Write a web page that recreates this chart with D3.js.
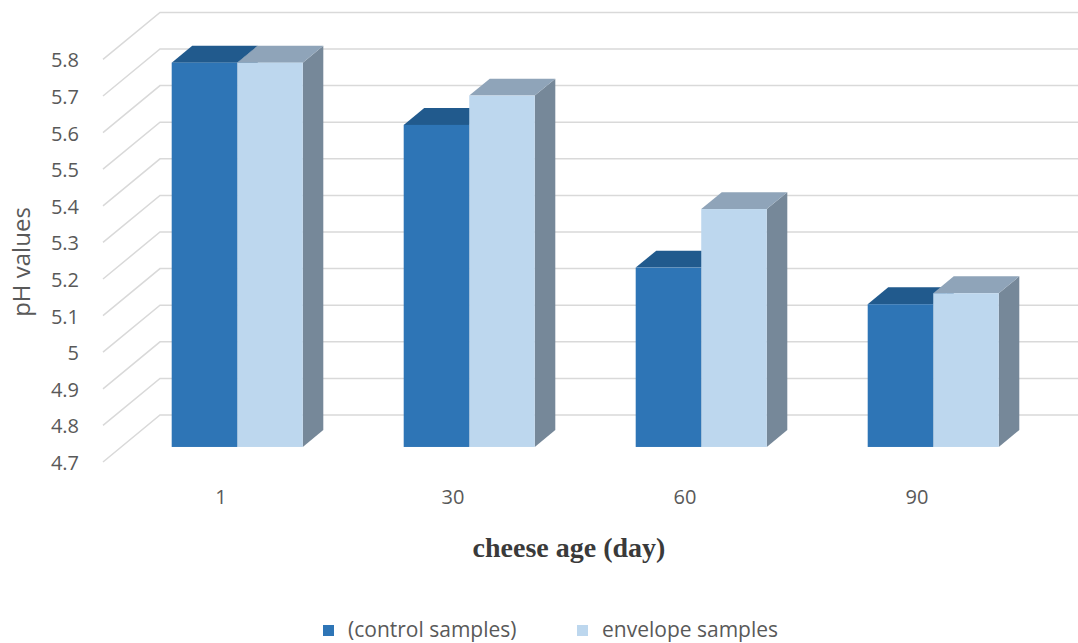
<!DOCTYPE html>
<html>
<head>
<meta charset="utf-8">
<script src="https://cdn.jsdelivr.net/npm/d3@7"></script>
<style>
  body { margin: 0; background: #fff; }
  svg text { font-family: "Open Sans", "Noto Sans", sans-serif; fill: #595959; }
</style>
</head>
<body>
<div id="chart"></div>
<script>
// data
var categories = ["1", "30", "60", "90"];
var controlValues = [5.75, 5.58, 5.19, 5.09];
var envelopeValues = [5.75, 5.66, 5.35, 5.12];
var yTicks = [4.7, 4.8, 4.9, 5.0, 5.1, 5.2, 5.3, 5.4, 5.5, 5.6, 5.7, 5.8];
var seriesNames = ["(control samples)", "envelope samples"];

var w = 1078, h = 643;

// 3d look: depth 0 = front edge of the floor, 1 = back wall
var depthX = 57, depthY = -47;
var barFront = 0.32, barBack = 0.68;

var svg = d3.select("#chart").append("svg")
	.attr("width", w)
	.attr("height", h);

var x = d3.scaleBand()
	.domain(categories)
	.range([103, 1031])
	.paddingInner(0.435)
	.paddingOuter(0.2175);

var y = d3.scaleLinear()
	.domain([4.7, 5.8])
	.range([462, 59.4]);

function px(xx, z) { return xx + z * depthX; }
function py(yy, z) { return yy + z * depthY; }

// side wall + back wall gridlines
var grid = svg.append("g");
yTicks.forEach(function(t) {
	var yy = y(t);
	grid.append("path")
		.attr("d", "M" + px(103, 0) + "," + py(yy, 0) +
			"L" + px(103, 1) + "," + py(yy, 1) +
			"L" + w + "," + py(yy, 1))
		.attr("fill", "none")
		.attr("stroke", "#d9d9d9")
		.attr("stroke-width", 1.5);
});

// y tick labels
svg.append("g").selectAll("text")
	.data(yTicks)
	.enter().append("text")
	.attr("x", 79)
	.attr("y", function(d) { return y(d) + 1; })
	.attr("dy", "0.35em")
	.attr("text-anchor", "end")
	.style("font-size", "20px")
	.text(function(d) { return d3.format("")(d) === "5" ? "5" : d3.format(".1f")(d); });

// bars
var colors = [
	{ front: "#2e75b6", top: "#215a8d", side: "#1d4f7c" },
	{ front: "#bdd7ee", top: "#8fa4b9", side: "#768899" }
];

var half = x.bandwidth() / 2;
var bars = svg.append("g");

categories.forEach(function(c, i) {
	[controlValues[i], envelopeValues[i]].forEach(function(v, s) {
		var x0 = x(c) + s * half, x1 = x0 + half;
		var yTop = y(v), yBot = y(4.7);
		var col = colors[s];
		var fx0 = px(x0, barFront), fx1 = px(x1, barFront);
		var bx0 = px(x0, barBack), bx1 = px(x1, barBack);
		var fyT = py(yTop, barFront), fyB = py(yBot, barFront);
		var byT = py(yTop, barBack), byB = py(yBot, barBack);
		// side
		bars.append("path")
			.attr("d", "M" + fx1 + "," + fyT + "L" + bx1 + "," + byT +
				"L" + bx1 + "," + byB + "L" + fx1 + "," + fyB + "Z")
			.attr("fill", col.side);
		// top
		bars.append("path")
			.attr("d", "M" + fx0 + "," + fyT + "L" + bx0 + "," + byT +
				"L" + bx1 + "," + byT + "L" + fx1 + "," + fyT + "Z")
			.attr("fill", col.top);
		// front
		bars.append("rect")
			.attr("x", fx0)
			.attr("y", fyT)
			.attr("width", half)
			.attr("height", fyB - fyT)
			.attr("fill", col.front);
	});
});

// category labels
svg.append("g").selectAll("text")
	.data(categories)
	.enter().append("text")
	.attr("x", function(d) { return x(d) + half + 2; })
	.attr("y", 497)
	.attr("dy", "0.35em")
	.attr("text-anchor", "middle")
	.style("font-size", "20px")
	.text(function(d) { return d; });

// axis titles
svg.append("text")
	.attr("x", 569)
	.attr("y", 557)
	.attr("text-anchor", "middle")
	.style("font-family", "'Liberation Serif', 'DejaVu Serif', serif")
	.style("font-weight", "bold")
	.style("font-size", "28px")
	.style("fill", "#3a3a3a")
	.text("cheese age (day)");

svg.append("text")
	.attr("transform", "translate(30,262) rotate(-90)")
	.attr("text-anchor", "middle")
	.style("font-size", "24px")
	.text("pH values");

// legend
var legend = svg.append("g");
var legendX = [323, 577];
seriesNames.forEach(function(name, s) {
	legend.append("rect")
		.attr("x", legendX[s])
		.attr("y", 625)
		.attr("width", 11)
		.attr("height", 11)
		.attr("fill", colors[s].front);
	legend.append("text")
		.attr("x", legendX[s] + 25)
		.attr("y", 630)
		.attr("dy", "0.35em")
		.style("font-size", "21px")
		.text(name);
});
</script>
</body>
</html>
